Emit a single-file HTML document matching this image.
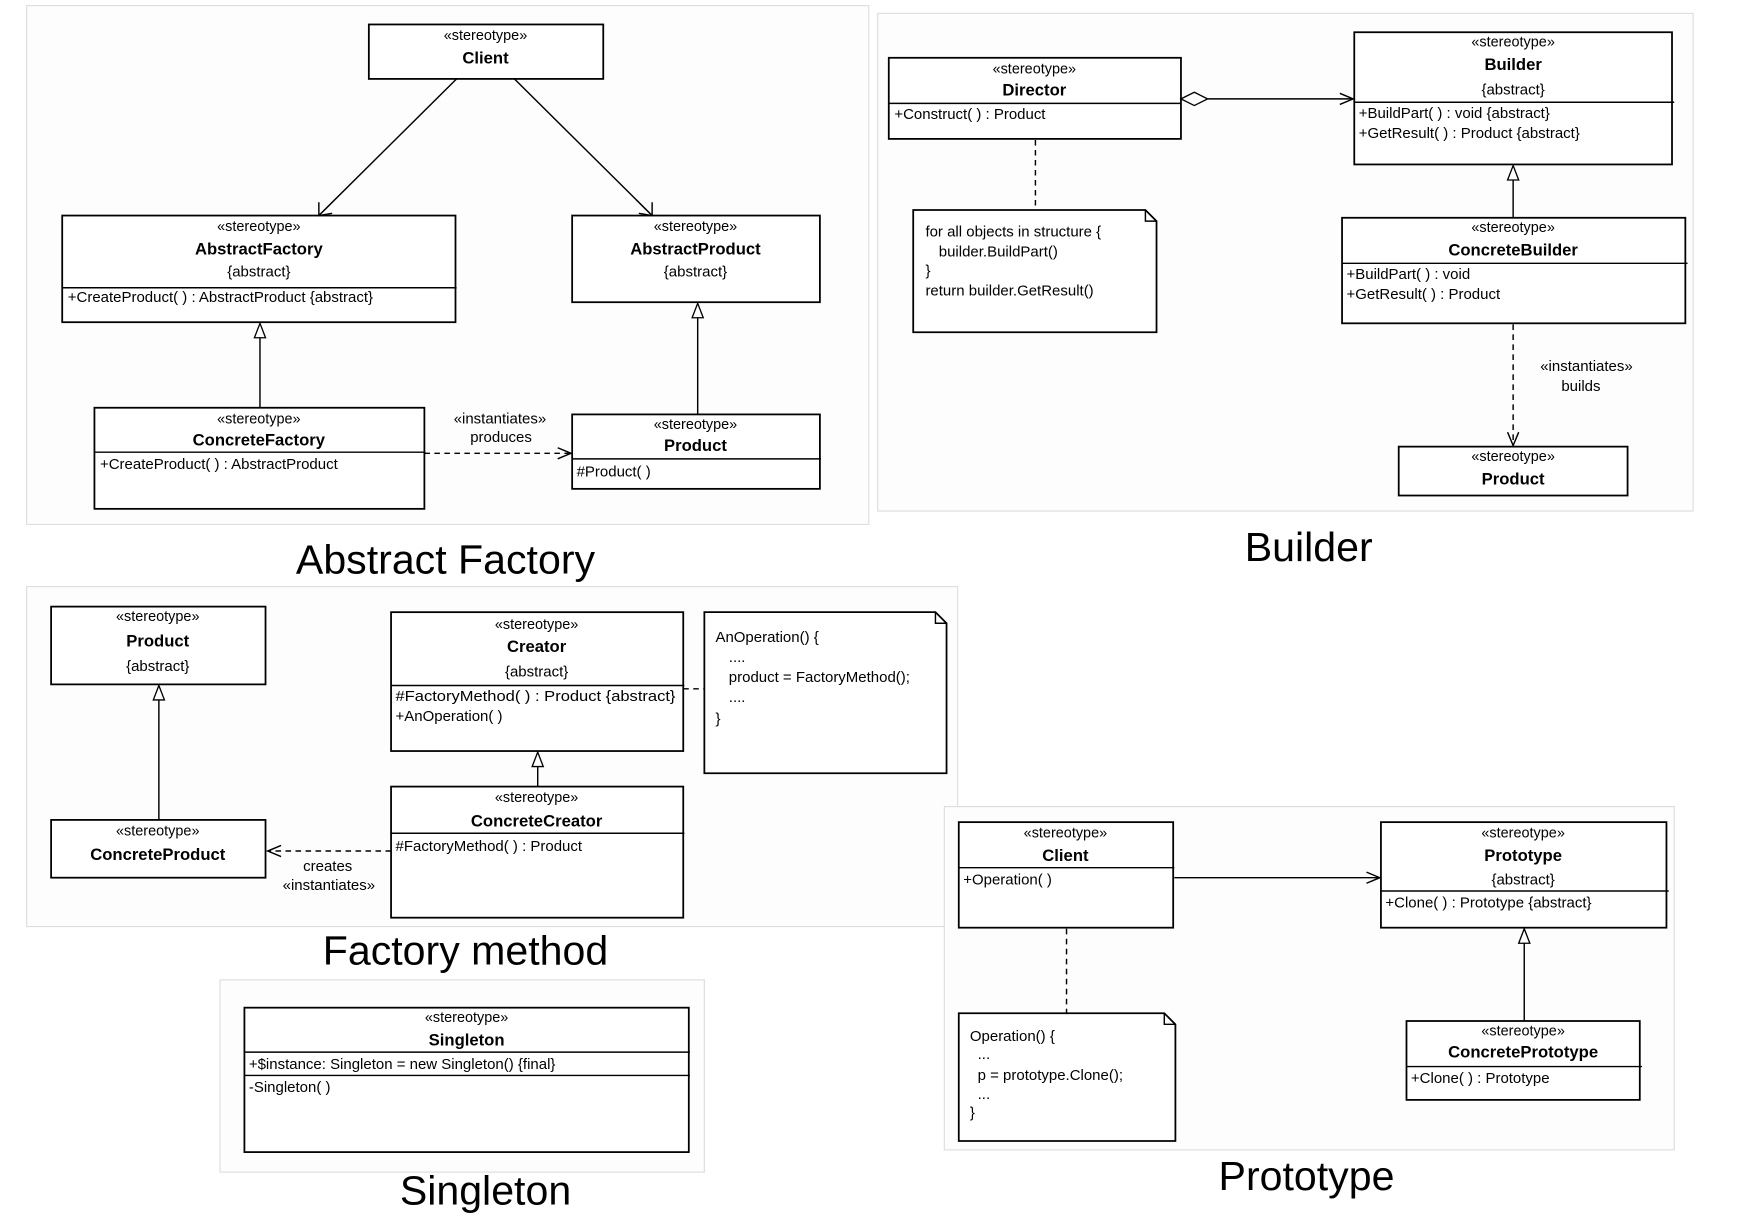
<!DOCTYPE html>
<html><head><meta charset="utf-8"><style>
html,body{margin:0;padding:0;background:#fff}
svg{display:block}
text{font-family:"Liberation Sans",sans-serif;fill:#000}
.s{font-size:13px;text-anchor:middle}
.n{font-size:15px;font-weight:bold;text-anchor:middle}
.m{font-size:13.5px}
.c{font-size:13.5px;text-anchor:middle}
.t{font-size:37px;text-anchor:middle}
.b{fill:#fff;stroke:#000;stroke-width:1.6}
.p{fill:#fdfdfd;stroke:#ddd;stroke-width:1}
.l{stroke:#000;stroke-width:1.3;fill:none}
.d{stroke:#000;stroke-width:1.3;fill:none;stroke-dasharray:5,4}
.g{fill:#fff;stroke:#000;stroke-width:1.2}
</style></head><body>
<svg width="1742" height="1216" viewBox="0 0 1568 1094.5" xmlns="http://www.w3.org/2000/svg">
<!-- panels -->
<rect class="p" x="24" y="5" width="758" height="467"/>
<rect class="p" x="790" y="12" width="734" height="448"/>
<rect class="p" x="24" y="528" width="838" height="306"/>
<rect class="p" x="198" y="882" width="436" height="173"/>
<rect class="p" x="850" y="726" width="657" height="309"/>

<!-- ===== Abstract Factory ===== -->
<rect class="b" x="332" y="22" width="211" height="49"/>
<text class="s" x="437" y="36">«stereotype»</text><text class="n" x="437" y="57">Client</text>

<rect class="b" x="56" y="194" width="354" height="96"/>
<text class="s" x="233" y="208">«stereotype»</text><text class="n" x="233" y="229">AbstractFactory</text>
<text class="c" x="233" y="249">{abstract}</text>
<line class="l" x1="56" y1="259" x2="411" y2="259"/>
<text class="m" x="61" y="272">+CreateProduct( ) : AbstractProduct {abstract}</text>

<rect class="b" x="515" y="194" width="223" height="78"/>
<text class="s" x="626" y="208">«stereotype»</text><text class="n" x="626" y="229">AbstractProduct</text>
<text class="c" x="626" y="249">{abstract}</text>

<rect class="b" x="85" y="367" width="297" height="91"/>
<text class="s" x="233" y="381">«stereotype»</text><text class="n" x="233" y="401">ConcreteFactory</text>
<line class="l" x1="85" y1="407" x2="383" y2="407"/>
<text class="m" x="90" y="422">+CreateProduct( ) : AbstractProduct</text>

<rect class="b" x="515" y="373" width="223" height="67"/>
<text class="s" x="626" y="386">«stereotype»</text><text class="n" x="626" y="406">Product</text>
<line class="l" x1="515" y1="413" x2="739" y2="413"/>
<text class="m" x="519" y="429">#Product( )</text>

<line class="l" x1="411" y1="71" x2="287" y2="194"/>
<polyline class="l" points="287,182 287,194 299,192"/>
<line class="l" x1="463" y1="71" x2="587" y2="194"/>
<polyline class="l" points="575,192 587,194 587,182"/>
<line class="l" x1="234" y1="367" x2="234" y2="304"/>
<polygon class="g" points="234,291 229,304 239,304"/>
<line class="l" x1="628" y1="373" x2="628" y2="286"/>
<polygon class="g" points="628,273 623,286 633,286"/>
<line class="d" x1="382" y1="408" x2="514" y2="408"/>
<polyline class="l" points="502,403 514,408 502,413"/>
<text class="c" x="450" y="381">«instantiates»</text>
<text class="c" x="451" y="398">produces</text>
<text class="t" x="401" y="516">Abstract Factory</text>

<!-- ===== Builder ===== -->
<rect class="b" x="800" y="52" width="263" height="73"/>
<text class="s" x="931" y="66">«stereotype»</text><text class="n" x="931" y="86">Director</text>
<line class="l" x1="800" y1="93" x2="1063" y2="93"/>
<text class="m" x="805" y="107">+Construct( ) : Product</text>

<rect class="b" x="1219" y="29" width="286" height="119"/>
<text class="s" x="1362" y="42">«stereotype»</text><text class="n" x="1362" y="63">Builder</text>
<text class="c" x="1362" y="85">{abstract}</text>
<line class="l" x1="1219" y1="92" x2="1507" y2="92"/>
<text class="m" x="1223" y="106">+BuildPart( ) : void {abstract}</text>
<text class="m" x="1223" y="124">+GetResult( ) : Product {abstract}</text>

<rect class="b" x="1208" y="196" width="309" height="95"/>
<text class="s" x="1362" y="209">«stereotype»</text><text class="n" x="1362" y="230">ConcreteBuilder</text>
<line class="l" x1="1208" y1="237" x2="1519" y2="237"/>
<text class="m" x="1212" y="251">+BuildPart( ) : void</text>
<text class="m" x="1212" y="269">+GetResult( ) : Product</text>

<rect class="b" x="1259" y="402" width="206" height="44"/>
<text class="s" x="1362" y="415">«stereotype»</text><text class="n" x="1362" y="436">Product</text>

<path class="b" d="M822,189 H1031 L1041,199 V299 H822 Z"/>
<polyline class="l" points="1031,189 1031,199 1041,199"/>
<text class="m" x="833" y="213">for all objects in structure {</text>
<text class="m" x="845" y="231">builder.BuildPart()</text>
<text class="m" x="833" y="248">}</text>
<text class="m" x="833" y="266">return builder.GetResult()</text>
<line class="d" x1="932" y1="126" x2="932" y2="189"/>

<polygon class="g" points="1063,89 1075,83 1087,89 1075,95"/>
<line class="l" x1="1087" y1="89" x2="1218" y2="89"/>
<polyline class="l" points="1206,84 1218,89 1206,94"/>
<line class="l" x1="1362" y1="196" x2="1362" y2="162"/>
<polygon class="g" points="1362,149 1357,162 1367,162"/>
<line class="d" x1="1362" y1="292" x2="1362" y2="401"/>
<polyline class="l" points="1357,389 1362,401 1367,389"/>
<text class="c" x="1428" y="334">«instantiates»</text>
<text class="c" x="1423" y="352">builds</text>
<text class="t" x="1178" y="505">Builder</text>

<!-- ===== Factory method ===== -->
<rect class="b" x="46" y="546" width="193" height="70"/>
<text class="s" x="142" y="559">«stereotype»</text><text class="n" x="142" y="582">Product</text>
<text class="c" x="142" y="604">{abstract}</text>

<rect class="b" x="46" y="738" width="193" height="52"/>
<text class="s" x="142" y="752">«stereotype»</text><text class="n" x="142" y="774">ConcreteProduct</text>

<rect class="b" x="352" y="551" width="263" height="125"/>
<text class="s" x="483" y="566">«stereotype»</text><text class="n" x="483" y="587">Creator</text>
<text class="c" x="483" y="609">{abstract}</text>
<line class="l" x1="352" y1="617" x2="616" y2="617"/>
<text class="m" x="356" y="631" textLength="252" lengthAdjust="spacingAndGlyphs">#FactoryMethod( ) : Product {abstract}</text>
<text class="m" x="356" y="649">+AnOperation( )</text>

<rect class="b" x="352" y="708" width="263" height="118"/>
<text class="s" x="483" y="722">«stereotype»</text><text class="n" x="483" y="744">ConcreteCreator</text>
<line class="l" x1="352" y1="750" x2="616" y2="750"/>
<text class="m" x="356" y="766">#FactoryMethod( ) : Product</text>

<path class="b" d="M634,551 H842 L852,561 V696 H634 Z"/>
<polyline class="l" points="842,551 842,561 852,561"/>
<text class="m" x="644" y="578">AnOperation() {</text>
<text class="m" x="656" y="596">....</text>
<text class="m" x="656" y="614">product = FactoryMethod();</text>
<text class="m" x="656" y="632">....</text>
<text class="m" x="644" y="651">}</text>
<line class="d" x1="615" y1="620" x2="634" y2="620"/>

<line class="l" x1="143" y1="738" x2="143" y2="630"/>
<polygon class="g" points="143,617 138,630 148,630"/>
<line class="l" x1="484" y1="708" x2="484" y2="690"/>
<polygon class="g" points="484,677 479,690 489,690"/>
<line class="d" x1="352" y1="766" x2="241" y2="766"/>
<polyline class="l" points="253,761 241,766 253,771"/>
<text class="c" x="295" y="784">creates</text>
<text class="c" x="296" y="801">«instantiates»</text>
<text class="t" x="419" y="868">Factory method</text>

<!-- ===== Singleton ===== -->
<rect class="b" x="220" y="907" width="400" height="130"/>
<text class="s" x="420" y="920">«stereotype»</text><text class="n" x="420" y="941">Singleton</text>
<line class="l" x1="220" y1="947" x2="621" y2="947"/>
<text class="m" x="224" y="962">+$instance: Singleton = new Singleton() {final}</text>
<line class="l" x1="220" y1="968" x2="621" y2="968"/>
<text class="m" x="224" y="983">-Singleton( )</text>
<text class="t" x="437" y="1084">Singleton</text>

<!-- ===== Prototype ===== -->
<rect class="b" x="863" y="740" width="193" height="95"/>
<text class="s" x="959" y="754">«stereotype»</text><text class="n" x="959" y="775">Client</text>
<line class="l" x1="863" y1="781" x2="1057" y2="781"/>
<text class="m" x="867" y="796">+Operation( )</text>

<rect class="b" x="1243" y="740" width="257" height="95"/>
<text class="s" x="1371" y="754">«stereotype»</text><text class="n" x="1371" y="775">Prototype</text>
<text class="c" x="1371" y="796">{abstract}</text>
<line class="l" x1="1243" y1="802" x2="1502" y2="802"/>
<text class="m" x="1247" y="817">+Clone( ) : Prototype {abstract}</text>

<rect class="b" x="1266" y="919" width="210" height="71"/>
<text class="s" x="1371" y="932">«stereotype»</text><text class="n" x="1371" y="952">ConcretePrototype</text>
<line class="l" x1="1266" y1="960" x2="1478" y2="960"/>
<text class="m" x="1270" y="975">+Clone( ) : Prototype</text>

<path class="b" d="M863,912 H1048 L1058,922 V1027 H863 Z"/>
<polyline class="l" points="1048,912 1048,922 1058,922"/>
<text class="m" x="873" y="937">Operation() {</text>
<text class="m" x="880" y="953">...</text>
<text class="m" x="880" y="972">p = prototype.Clone();</text>
<text class="m" x="880" y="989">...</text>
<text class="m" x="873" y="1006">}</text>
<line class="d" x1="960" y1="836" x2="960" y2="912"/>

<line class="l" x1="1057" y1="790" x2="1242" y2="790"/>
<polyline class="l" points="1230,785 1242,790 1230,795"/>
<line class="l" x1="1372" y1="919" x2="1372" y2="849"/>
<polygon class="g" points="1372,836 1367,849 1377,849"/>
<text class="t" x="1176" y="1071">Prototype</text>
</svg>
</body></html>
